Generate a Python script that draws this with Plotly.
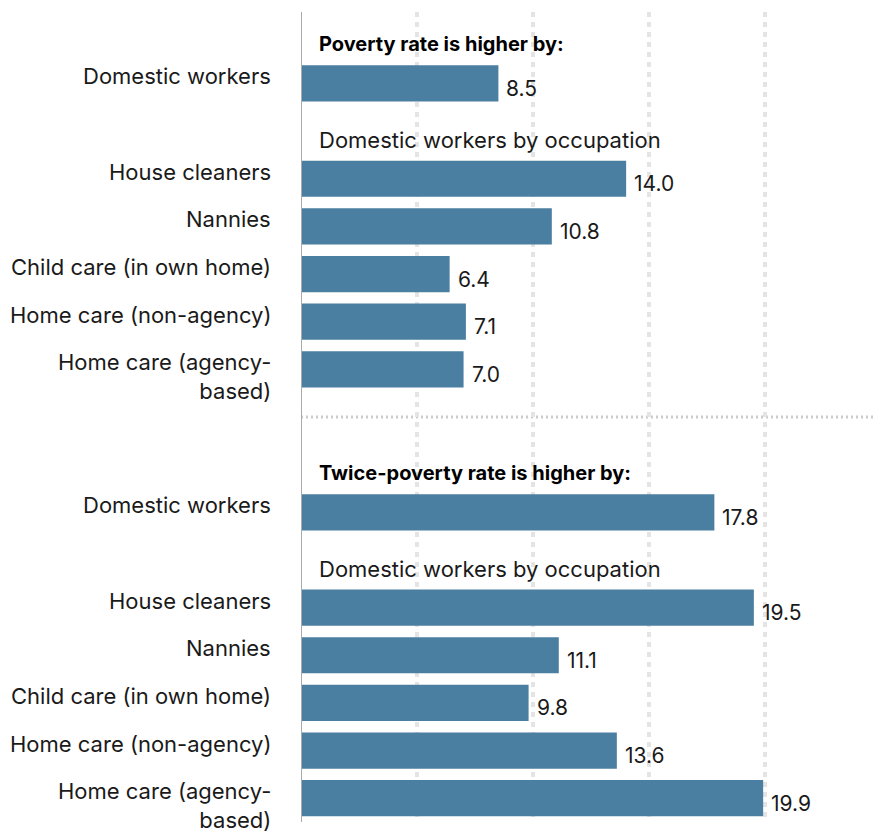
import plotly.graph_objects as go

# Data
occupations = ["House cleaners", "Nannies", "Child care (in own home)",
               "Home care (non-agency)", "Home care (agency-<br>based)"]
poverty_all = 8.5
poverty_occ = [14.0, 10.8, 6.4, 7.1, 7.0]
twice_all = 17.8
twice_occ = [19.5, 11.1, 9.8, 13.6, 19.9]

headers = ["Poverty rate is higher by:", "Twice-poverty rate is higher by:"]
subheader = "Domestic workers by occupation"
all_label = "Domestic workers"

# Slot layout (row indices, top to bottom)
labels, values, slots = [], [], []
head_slots, sub_slots = [], []
blocks = [(poverty_all, poverty_occ), (twice_all, twice_occ)]
row = 0
for bi, (a, occ) in enumerate(blocks):
    head_slots.append(row); row += 1
    labels.append(all_label); values.append(a); slots.append(row); row += 1
    sub_slots.append(row); row += 1
    for lab, v in zip(occupations, occ):
        labels.append(lab); values.append(v); slots.append(row); row += 1
    if bi == 0:
        sep_slot = row; row += 1
n_rows = row

BAR = "#4a7fa1"
TXT = "#1a1a1a"
FONT = "Inter"
FS = 22
FS_BOLD = 20

fig = go.Figure()
fig.add_trace(go.Bar(
    x=values, y=slots, orientation="h", marker=dict(color=BAR, line_width=0),
    width=0.76, hoverinfo="skip", showlegend=False))

ann = []
for lab, v, s in zip(labels, values, slots):
    ann.append(dict(xref="paper", x=0, yref="y", y=s, text=lab, showarrow=False,
                    xanchor="right", yanchor="top", xshift=-28, yshift=22, align="right",
                    font=dict(family=FONT, size=FS, color=TXT)))
    ann.append(dict(xref="x", x=v, yref="y", y=s, text=f"{v:.1f}", showarrow=False,
                    xanchor="left", yanchor="middle", xshift=6, yshift=-5,
                    font=dict(family=FONT, size=FS - 1, color=TXT)))
for h, s in zip(headers, head_slots):
    ann.append(dict(xref="paper", x=0, yref="y", y=s, text=f"<b>{h}</b>", showarrow=False,
                    xanchor="left", yanchor="middle", xshift=16, yshift=-8,
                    font=dict(family=FONT, size=FS_BOLD, color="#000")))
for s in sub_slots:
    ann.append(dict(xref="paper", x=0, yref="y", y=s, text=subheader, showarrow=False,
                    xanchor="left", yanchor="middle", xshift=16, yshift=-9,
                    font=dict(family=FONT, size=FS, color=TXT)))

fig.add_shape(type="line", xref="paper", x0=0, x1=1, yref="y", y0=sep_slot, y1=sep_slot,
              line=dict(color="#cccccc", width=3, dash="2px,3px"), layer="below")

fig.update_layout(
    width=873, height=834,
    margin=dict(l=301, r=0, t=12, b=12),
    paper_bgcolor="white", plot_bgcolor="white",
    xaxis=dict(range=[0, 24.63], tickvals=[5, 10, 15, 20], showticklabels=False,
               showgrid=True, gridcolor="#e4e4e4", gridwidth=4, griddash="5px,5px",
               zeroline=False, showline=False, fixedrange=True),
    yaxis=dict(range=[n_rows - 0.5, -0.5], showticklabels=False, showgrid=False,
               zeroline=False, showline=False, fixedrange=True),
    annotations=ann,
    shapes=list(fig.layout.shapes) + [dict(type="line", xref="x", x0=0, x1=0, yref="paper",
                                           y0=0, y1=1, line=dict(color="#aaaaaa", width=2),
                                           layer="above")],
)

fig.write_html("out.html")
